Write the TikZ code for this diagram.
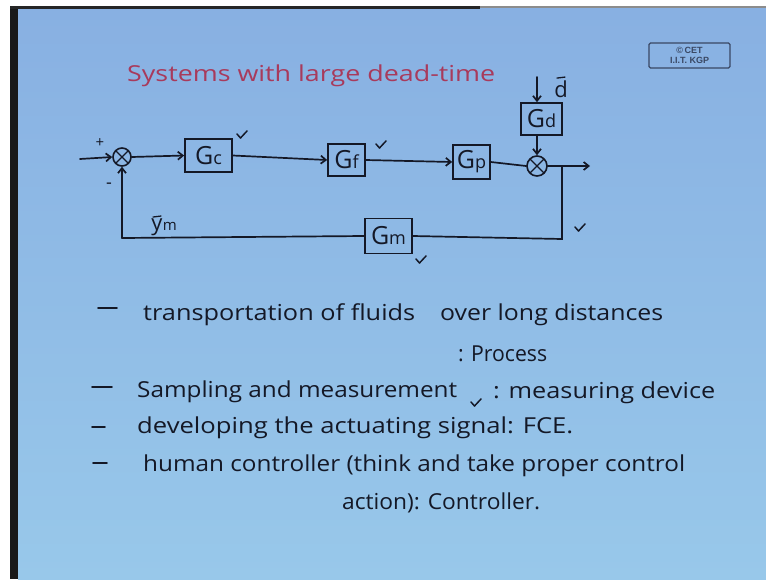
\documentclass[tikz,border=0pt]{standalone}
\usepackage{fontspec}
\usepackage{graphicx}
\setmainfont{Open Sans}
\newfontfamily\logofont{Liberation Sans}
\usetikzlibrary{arrows.meta,calc}
\definecolor{bgtop}{RGB}{136,176,226}
\definecolor{bgbot}{RGB}{152,200,234}
\definecolor{ink}{RGB}{20,24,38}
\definecolor{titlered}{RGB}{168,58,92}
\definecolor{logoc}{RGB}{58,72,100}
\newcommand\seg[6][ink]{\node[txt, text=#1, anchor=base west] (#2) at (#3,#4) {\resizebox{#5pt}{\height}{#6}};}
\newcommand\gsub[1]{G{\fontsize{18}{19}\selectfont #1}}
\begin{document}
\begin{tikzpicture}[x=1pt,y=-1pt,
  wire/.style={draw=ink, line width=1.7pt, line cap=round},
  arr/.style={wire, -{Straight Barb[length=5pt,width=8pt]}},
  blk/.style={draw=ink, line width=1.7pt, inner sep=0pt, text=ink, font=\fontsize{25}{26}\selectfont},
  sumj/.style={circle, draw=ink, line width=1.6pt, inner sep=0pt, minimum size=#1,
    path picture={\draw[ink, line width=1.3pt] (path picture bounding box.north west) -- (path picture bounding box.south east) (path picture bounding box.north east) -- (path picture bounding box.south west);}},
  txt/.style={inner sep=0pt, font=\fontsize{22}{26}\selectfont},
  lbl/.style={inner sep=0pt, text=ink},
  chk/.pic={\draw[draw=ink, line width=1.5pt, line cap=round, line join=round] (-5,-1) -- (-1.5,3) -- (5,-4);}
]
\useasboundingbox (0,0) rectangle (766,579);
% background
\fill[white] (0,0) rectangle (766,579);
\shade[top color=bgtop, bottom color=bgbot] (18,8) rectangle (766,579);
\fill[black!90] (10,6) rectangle (18,579);
\fill[black!85] (10,6) rectangle (480,8.5);
\fill[black!45] (480,6) rectangle (766,8);

% logo
\node[draw=logoc, line width=1.2pt, minimum width=81pt, minimum height=25pt, rounded corners=1.5pt, inner sep=0pt] (logo) at (689.5,55.5) {};
\node[inner sep=0pt, align=center, text=logoc, font=\logofont\bfseries\fontsize{9}{9.5}\selectfont] (logotxt) at (logo.center) {\textcopyright\,CET\\I.I.T. KGP};

% title
\seg[titlered]{title}{127}{81}{368}{Systems with large dead-time}

% block diagram
\coordinate (in) at (80,159);
\node[sumj=18pt] (s1) at (122,157) {};
\node[blk, minimum width=47pt, minimum height=33pt] (Gc) at (208.5,155.5) {\gsub{c}};
\node[blk, minimum width=37pt, minimum height=32pt] (Gf) at (346.5,160) {\gsub{f}};
\node[blk, minimum width=37pt, minimum height=34pt] (Gp) at (471.5,162) {\gsub{p}};
\node[sumj=20pt] (s2) at (537,166) {};
\node[blk, minimum width=41pt, minimum height=32pt] (Gd) at (541.5,119) {\gsub{d}};
\node[blk, minimum width=47pt, minimum height=35pt] (Gm) at (388.5,236) {\gsub{m}};
\coordinate (dtop) at (537,77);
\coordinate (out) at (590,166);
\coordinate (br) at (562,166);
\coordinate (c2) at (562,239);
\coordinate (c1) at (122,238);

\draw[arr] (in) -- (s1.west);
\draw[arr] (s1.east) -- (Gc.west);
\draw[arr] (Gc.east) -- (Gf.west);
\draw[arr] (Gf.east) -- (Gp.west);
\draw[wire] (Gp.east) -- (s2.west);
\draw[arr] (dtop) -- (dtop |- Gd.north);
\draw[arr] (s2 |- Gd.south) -- (s2.north);
\draw[arr] (s2.east) -- (out);
\draw[wire] (br) -- (c2) -- (Gm.east);
\draw[wire] (Gm.west) -- (c1);
\draw[arr] (c1) -- (s1.south);

\node[lbl, font=\fontsize{15}{15}\selectfont] (plus) at (100,143) {+};
\node[lbl, font=\fontsize{18}{18}\selectfont] (minus) at (109,186) {-};
\node[lbl, font=\fontsize{22}{23}\selectfont, anchor=base] (ym) at (157,230) {y};
\node[lbl, font=\fontsize{15}{16}\selectfont, anchor=base west] (ymsub) at (ym.base east) {m};
\draw[wire, line width=1.3pt] ($(ym.north)+(-4,-1)$) -- ($(ym.north)+(4,-2)$);
\node[lbl, font=\fontsize{22}{23}\selectfont, anchor=base] (dl) at (561,97) {d};
\draw[wire, line width=1.3pt] ($(dl.north)+(-4,-2)$) -- ($(dl.north)+(4,-3)$);

\pic at (242,135) {chk};
\pic at (381,145) {chk};
\pic at (580,228) {chk};
\pic at (421,260) {chk};

% bullet dashes
\draw[wire] (98,308) -- (117,308);
\draw[wire] (92,387) -- (112,387);
\draw[wire] (92,427) -- (105,427);
\draw[wire] (93,463) -- (107,463);

% text lines
\seg{l1a}{143}{320}{272}{transportation of fluids}
\seg{l1b}{440}{320}{223}{over long distances}
\seg{l2}{458}{361}{89}{: Process}
\seg{l3a}{137}{397}{320}{Sampling and measurement}
\pic at (476,403) {chk};
\seg{l3b}{493}{398}{222}{: measuring device}
\seg{l4}{137}{433}{436}{developing the actuating signal: FCE.}
\seg{l5}{143}{471}{542}{human controller (think and take proper control}
\seg{l6}{342}{509}{198}{action): Controller.}
\end{tikzpicture}
\end{document}
